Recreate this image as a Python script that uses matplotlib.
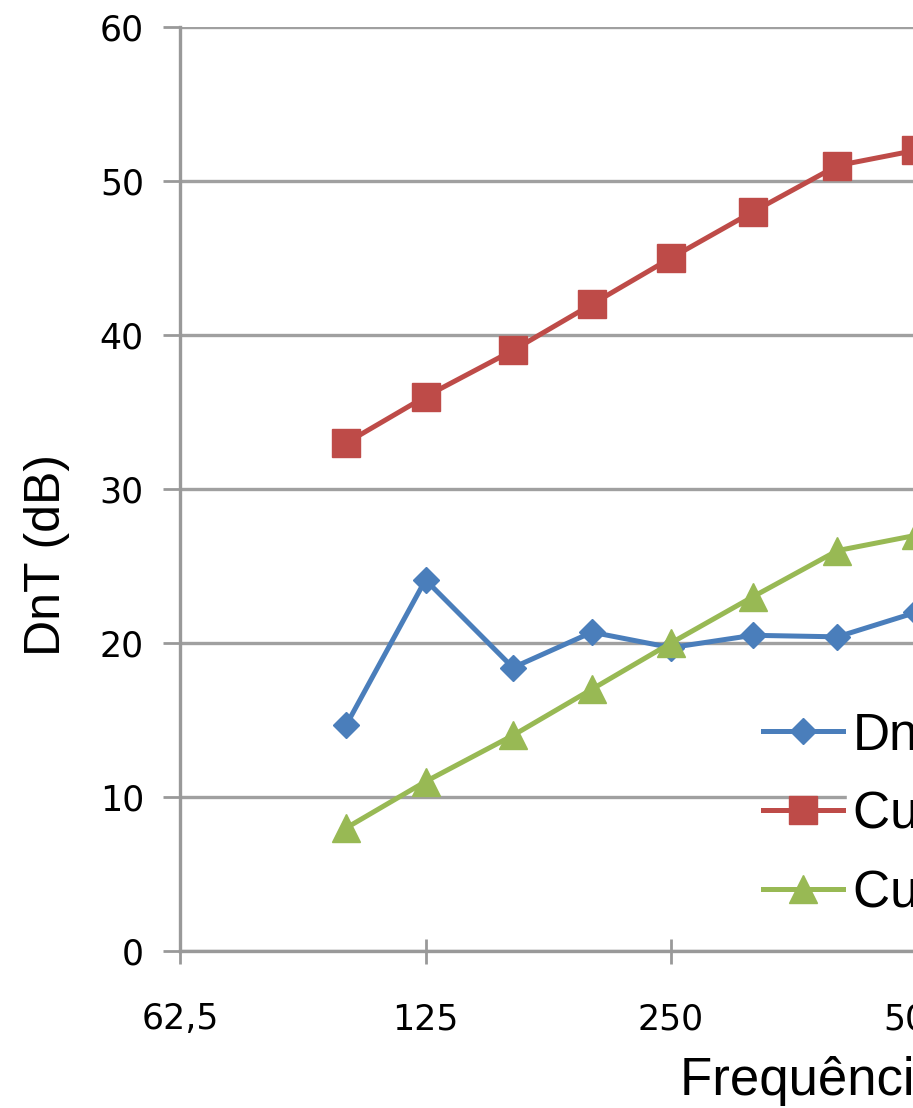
import numpy as np
import matplotlib
matplotlib.use("Agg")
import matplotlib.pyplot as plt

# frequencias de terco de oitava (Hz)
freq = [100, 125, 160, 200, 250, 315, 400, 500]

dnt = [14.7, 24.1, 18.4, 20.7, 19.7, 20.5, 20.4, 22.0]
curva_ref = [33, 36, 39, 42, 45, 48, 51, 52]
curva_desl = [8, 11, 14, 17, 20, 23, 26, 27]

xticks = [62.5, 125, 250, 500, 1000, 2000, 4000]
xtick_labels = ["62,5", "125", "250", "500", "1000", "2000", "4000"]
yticks = [0, 10, 20, 30, 40, 50, 60]

W, H = 913, 1108
fig = plt.figure(figsize=(W / 100, H / 100), dpi=100)

# area do grafico em pixels: esquerda 180, topo 27, base 951, 245.5 px por oitava
octave = 245.5
left, top, bottom = 180, 27, 951
width = 6 * octave
ax = fig.add_axes([left / W, (H - bottom) / H, width / W, (bottom - top) / H])

grey = "#a0a0a0"
ax.plot(freq, dnt, color="#4a7ebb", lw=3.6, marker="D", ms=13,
        label="DnT,w")
ax.plot(freq, curva_ref, color="#be4b48", lw=3.6, marker="s", ms=20,
        label="Curva de referência")
ax.plot(freq, curva_desl, color="#98b954", lw=3.6, marker="^", ms=20,
        label="Curva de referência deslocada")

ax.set_xscale("log", base=2)
ax.set_xlim(62.5, 4000)
ax.set_ylim(0, 60)
ax.set_xticks(xticks)
ax.set_xticklabels(xtick_labels)
ax.minorticks_off()
ax.set_yticks(yticks)

ax.grid(axis="y", color=grey, lw=2.4)
ax.set_axisbelow(True)
for s in ["top", "right"]:
    ax.spines[s].set_visible(False)
for s in ["left", "bottom"]:
    ax.spines[s].set_color("#999999")
    ax.spines[s].set_linewidth(2.4)

ax.tick_params(axis="y", direction="out", length=12, width=2, color="#999999",
               pad=14, labelsize=25)
ax.tick_params(axis="x", direction="inout", length=18, width=2, color="#999999",
               pad=28, labelsize=25)
for lab in ax.get_xticklabels() + ax.get_yticklabels():
    lab.set_family("DejaVu Sans")

ax.set_ylabel("DnT (dB)", fontsize=36, family="Liberation Sans")
ax.yaxis.set_label_coords(-(left - 70) / width, (bottom - 555) / (bottom - top))
ax.set_xlabel("Frequência (Hz)", fontsize=38, family="Liberation Sans",
              ha="left")
ax.xaxis.set_label_coords((680 - left) / width, -(1095 - bottom) / (bottom - top))
ax.xaxis.label.set_va("baseline")

leg = ax.legend(loc="upper left", bbox_to_anchor=(763 / W, 1 - 711 / H),
                bbox_transform=fig.transFigure, frameon=False,
                prop={"family": "Liberation Sans", "size": 37},
                handlelength=1.55, handletextpad=0.2, labelspacing=0.58,
                borderpad=0, borderaxespad=0)
for t in leg.get_texts():
    t.set_backgroundcolor("white")

fig.savefig("out.png", dpi=100)
